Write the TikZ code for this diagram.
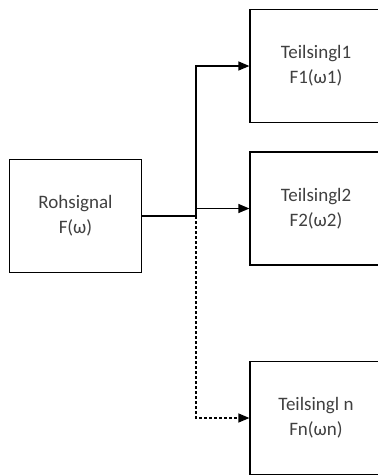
\documentclass[tikz,border=0pt]{standalone}
\usepackage{fontspec}
\setmainfont{Carlito}
\usetikzlibrary{arrows.meta}
\begin{document}
\begin{tikzpicture}[x=1pt, y=-1pt,
    block/.style={draw, line width=1.2pt, minimum width=132pt, minimum height=113pt,
        align=center, text=black!75, font=\fontsize{19}{25}\selectfont},
    conn/.style={line width=1.2pt, -{Triangle[length=11pt, width=9pt]}}]
    % Frame
    \useasboundingbox (0,0) rectangle (378,475);
    \clip (0,0) rectangle (378,475);

    % Boxes
    \node[block] (raw) at (75.5, 216) {Rohsignal\\F(ω)};
    \node[block] (sub1) at (316, 66) {Teilsingl1\\F1(ω1)};
    \node[block] (sub2) at (316, 208.5) {Teilsingl2\\F2(ω2)};
    \node[block] (subn) at (316, 418) {Teilsingl n\\Fn(ωn)};

    % Connections
    \coordinate (split) at (196, 216);
    \draw[line width=1.8pt] (raw.east) -- (split);
    \draw[conn] (split) |- (sub1.west);
    \draw[conn] (split |- sub2.west) -- (sub2.west);
    \draw[conn, dash pattern=on 3pt off 2pt] (split) |- (subn.west);
\end{tikzpicture}
\end{document}
